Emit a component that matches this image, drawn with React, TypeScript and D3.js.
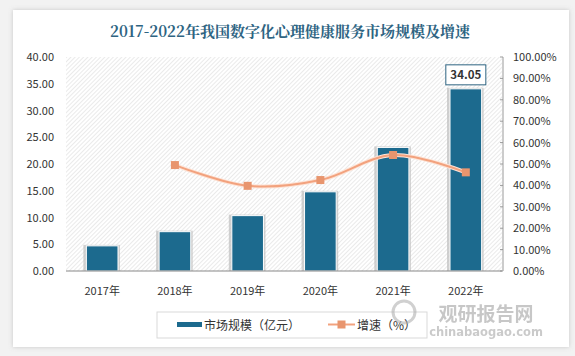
import React from "react";
import * as d3 from "d3";

const years = ["2017年", "2018年", "2019年", "2020年", "2021年", "2022年"];
const marketSize = [4.7, 7.35, 10.35, 14.8, 23.1, 34.05];
const growthYears = ["2018年", "2019年", "2020年", "2021年", "2022年"];
const growthRate = [49.5, 39.8, 42.5, 54.2, 46.1];
const leftTicks = [0, 5, 10, 15, 20, 25, 30, 35, 40];
const rightTicks = [0, 10, 20, 30, 40, 50, 60, 70, 80, 90, 100];

const W = 575, H = 356;
const plot = { left: 66, right: 502, top: 57, bottom: 271 };
const barColor = "#1C6A8E";
const lineColor = "#F2A27E";
const markerColor = "#E8956E";
const font = "'Noto Sans CJK SC', 'Open Sans', sans-serif";

export default function App() {
  const x = d3.scaleBand().domain(years).range([plot.left, plot.right]).paddingInner(0.565).paddingOuter(0.28);
  const yL = d3.scaleLinear().domain([0, 40]).range([plot.bottom, plot.top]);
  const yR = d3.scaleLinear().domain([0, 100]).range([plot.bottom, plot.top]);
  const cx = (c: string) => (x(c) as number) + x.bandwidth() / 2;
  const pts: [number, number][] = growthYears.map((c, i) => [cx(c), yR(growthRate[i])]);
  const line = d3.line().curve(d3.curveCatmullRom.alpha(0.5))(pts) || "";
  const last = years.length - 1;
  const lx = cx(years[last]);
  const ly = yL(marketSize[last]);

  return (
    <svg width={W} height={H} style={{ position: "absolute", left: 0, top: 0, background: "#f2f2f2" }}>
      <defs>
        <pattern id="hatch" width="3" height="3" patternUnits="userSpaceOnUse" patternTransform="rotate(45)">
          <rect width="3" height="3" fill="#ffffff" />
          <line x1="0" y1="0" x2="0" y2="3" stroke="#d6d6d6" strokeWidth="1" />
        </pattern>
        <filter id="shadow" x="-5%" y="-5%" width="110%" height="110%">
          <feDropShadow dx="0" dy="0" stdDeviation="2" floodColor="#999" floodOpacity="0.5" />
        </filter>
      </defs>
      <rect x={13} y={10} width={556} height={337} fill="#ffffff" filter="url(#shadow)" />
      <text x={290} y={37} textAnchor="middle" fontFamily="'Noto Serif CJK SC', 'Noto Sans CJK SC', serif" fontWeight="bold" fontSize={15} fill="#2E6482">
        2017-2022年我国数字化心理健康服务市场规模及增速
      </text>
      <rect x={plot.left} y={plot.top} width={plot.right - plot.left} height={plot.bottom - plot.top} fill="url(#hatch)" />
      {leftTicks.map((t) => (
        <text key={"l" + t} x={54} y={yL(t) + 4} textAnchor="end" fontFamily={font} fontSize={11} fill="#333">
          {t.toFixed(2)}
        </text>
      ))}
      <line x1={plot.right + 1} x2={plot.right + 1} y1={plot.top} y2={plot.bottom} stroke="#999" />
      {rightTicks.map((t) => (
        <g key={"r" + t}>
          <line x1={plot.right - 2} x2={plot.right + 1} y1={yR(t)} y2={yR(t)} stroke="#999" />
          <text x={513} y={yR(t) + 4} fontFamily={font} fontSize={11} fill="#333">
            {t.toFixed(2) + "%"}
          </text>
        </g>
      ))}
      {years.map((c, i) => (
        <g key={c}>
          <rect x={(x(c) as number) - 3} y={yL(marketSize[i]) - 1} width={x.bandwidth() + 5} height={plot.bottom - yL(marketSize[i]) + 1} fill="#bdbdbd" opacity={0.7} />
          <rect x={x(c)} y={yL(marketSize[i])} width={x.bandwidth()} height={plot.bottom - yL(marketSize[i])} fill={barColor} stroke="#ffffff" strokeWidth={1} />
          <text x={cx(c)} y={295} textAnchor="middle" fontFamily={font} fontSize={11} fill="#333">{c}</text>
        </g>
      ))}
      <line x1={plot.left} x2={plot.right} y1={plot.bottom} y2={plot.bottom} stroke="#888" />
      <path d={line} fill="none" stroke="#fde3d6" strokeWidth={4} />
      <path d={line} fill="none" stroke={lineColor} strokeWidth={2} />
      {pts.map((p, i) => (
        <rect key={i} x={p[0] - 4} y={p[1] - 4} width={8} height={8} fill={markerColor} />
      ))}
      <rect x={lx - 20} y={ly - 24} width={40} height={20} fill="#fff" stroke="#2E6482" strokeWidth={1} />
      <text x={lx} y={ly - 10} textAnchor="middle" fontFamily={font} fontWeight="bold" fontSize={11.5} fill="#333">
        {marketSize[last].toFixed(2)}
      </text>
      <rect x={157} y={312} width={270} height={26} fill="#fff" stroke="#d9d9d9" />
      <rect x={177} y={322} width={25} height={5} fill={barColor} />
      <text x={204} y={330} fontFamily={font} fontSize={12} fill="#333">市场规模（亿元）</text>
      <line x1={328} x2={355} y1={324.5} y2={324.5} stroke={lineColor} strokeWidth={2} />
      <rect x={337.5} y={320.5} width={8} height={8} fill={markerColor} />
      <text x={357} y={330} fontFamily={font} fontSize={12} fill="#333">增速（%）</text>
      <g opacity={0.55}>
        <circle cx={404} cy={312} r={11} fill="none" stroke="#aaa" strokeWidth={3} />
        <text x={486} y={321} textAnchor="middle" fontFamily={font} fontWeight="bold" fontSize={19} fill="#9a9a9a">观研报告网</text>
        <text x={486} y={336} textAnchor="middle" fontFamily="'DejaVu Sans', sans-serif" fontWeight="bold" fontSize={11.5} fill="#a0a0a0">chinabaogao.com</text>
      </g>
    </svg>
  );
}
